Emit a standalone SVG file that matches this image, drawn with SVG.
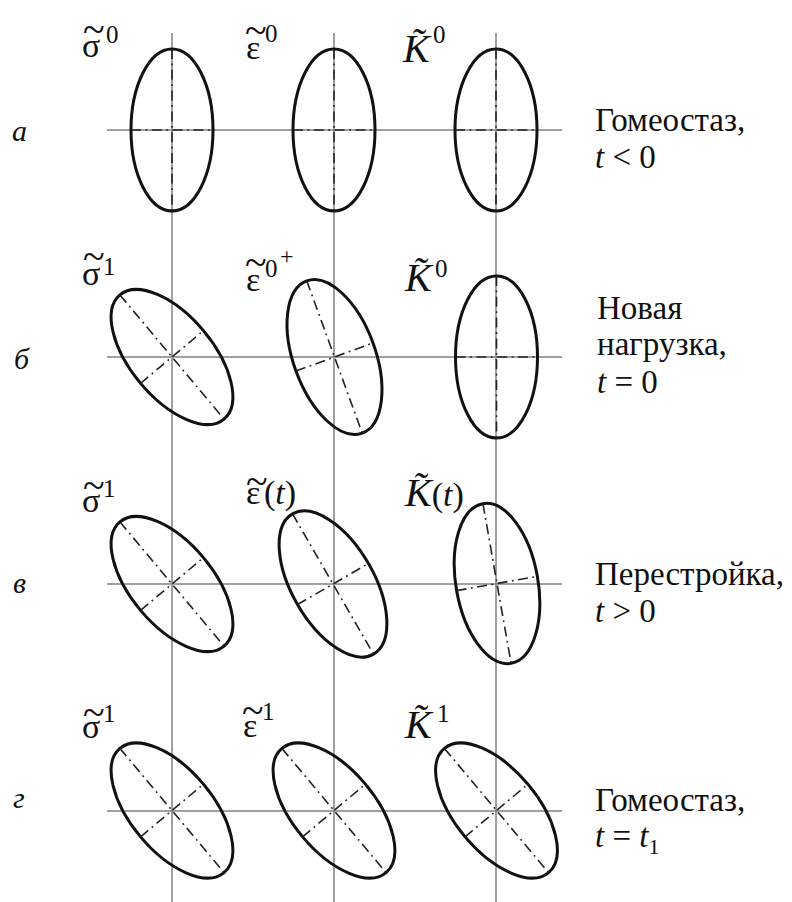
<svg xmlns="http://www.w3.org/2000/svg" width="792" height="902" viewBox="0 0 792 902" font-family="Liberation Serif, Times New Roman, serif">
<style>
.grid{stroke:#808080;stroke-width:1.5;fill:none}
.ell{fill:none;stroke:#111;stroke-width:3}
.ax{stroke:#222;stroke-width:1.6;stroke-dasharray:10 4.5 1.8 4.5;fill:none}
.lbl{font-size:34px;fill:#111}
.sup{font-size:25px}
.til{font-size:40px}
.it{font-style:italic}
.txt{font-size:33px;fill:#111}
.row{font-size:30px;font-style:italic;fill:#111}
</style>
<defs>
<g id="shape">
<ellipse class="ell" cx="0" cy="0" rx="41" ry="81"/>
<line class="ax" x1="0" y1="-81" x2="0" y2="81"/>
<line class="ax" x1="-41" y1="0" x2="41" y2="0"/>
</g>
</defs>
<rect width="792" height="902" fill="#fff"/>
<g id="connectors">
<line class="grid" x1="172" y1="33" x2="172" y2="902"/>
<line class="grid" x1="334" y1="33" x2="334" y2="902"/>
<line class="grid" x1="496" y1="33" x2="496" y2="902"/>
<line class="grid" x1="107" y1="130" x2="562" y2="130"/>
<line class="grid" x1="107" y1="357" x2="562" y2="357"/>
<line class="grid" x1="107" y1="584" x2="562" y2="584"/>
<line class="grid" x1="107" y1="811" x2="562" y2="811"/>
</g>

<g id="a-sigma">
<use href="#shape" transform="translate(172,130)"/>
<text class="lbl" x="82" y="57">σ<tspan class="til" x="83" y="43">~</tspan><tspan class="sup" x="106" y="43">0</tspan></text>
</g>
<g id="a-eps">
<use href="#shape" transform="translate(334,130)"/>
<text class="lbl" x="246" y="59">ε<tspan class="til" x="245" y="44">~</tspan><tspan class="sup" x="265" y="42">0</tspan></text>
</g>
<g id="a-K">
<use href="#shape" transform="translate(496,130)"/>
<text class="lbl" x="403" y="62"><tspan class="it" font-size="40">K̃</tspan><tspan class="sup" x="433" y="43">0</tspan></text>
</g>

<g id="b-sigma">
<use href="#shape" transform="translate(172,357) rotate(-40)"/>
<text class="lbl" x="82" y="285">σ<tspan class="til" x="83" y="270">~</tspan><tspan class="sup" x="103" y="275">1</tspan></text>
</g>
<g id="b-eps">
<use href="#shape" transform="translate(334.5,357) rotate(-20)"/>
<text class="lbl" x="246" y="291">ε<tspan class="til" x="245" y="276">~</tspan><tspan class="sup" x="265" y="277">0</tspan><tspan font-size="24" x="280" y="264">+</tspan></text>
</g>
<g id="b-K">
<use href="#shape" transform="translate(496.5,357)"/>
<text class="lbl" x="405" y="291"><tspan class="it" font-size="40">K̃</tspan><tspan class="sup" x="435" y="277">0</tspan></text>
</g>

<g id="v-sigma">
<use href="#shape" transform="translate(172,584) rotate(-40)"/>
<text class="lbl" x="82" y="512">σ<tspan class="til" x="83" y="499">~</tspan><tspan class="sup" x="103" y="497">1</tspan></text>
</g>
<g id="v-eps">
<use href="#shape" transform="translate(333,584) rotate(-30)"/>
<text class="lbl" x="246" y="504">ε<tspan class="til" x="246" y="495">~</tspan><tspan x="264" y="504">(<tspan class="it">t</tspan>)</tspan></text>
</g>
<g id="v-K">
<use href="#shape" transform="translate(497,583.5) rotate(-10)"/>
<text class="lbl" x="405" y="506"><tspan class="it" font-size="40">K̃</tspan>(<tspan class="it">t</tspan>)</text>
</g>

<g id="g-sigma">
<use href="#shape" transform="translate(172,810.5) rotate(-40)"/>
<text class="lbl" x="82" y="738">σ<tspan class="til" x="83" y="726">~</tspan><tspan class="sup" x="103" y="722">1</tspan></text>
</g>
<g id="g-eps">
<use href="#shape" transform="translate(334,810.5) rotate(-40)"/>
<text class="lbl" x="243" y="737">ε<tspan class="til" x="242" y="724">~</tspan><tspan class="sup" x="262" y="720">1</tspan></text>
</g>
<g id="g-K">
<use href="#shape" transform="translate(496.5,810.5) rotate(-40)"/>
<text class="lbl" x="405" y="738"><tspan class="it" font-size="40">K̃</tspan><tspan class="sup" x="437" y="722">1</tspan></text>
</g>

<g id="row-letters">
<text class="row" x="12" y="141">а</text>
<text class="row" x="14" y="369">б</text>
<text class="row" x="13" y="593">в</text>
<text class="row" x="13" y="808">г</text>
</g>

<g id="desc-a">
<text class="txt" x="595" y="131">Гомеостаз,</text>
<text class="txt" x="595" y="168"><tspan class="it">t</tspan> &lt; 0</text>
</g>
<g id="desc-b">
<text class="txt" x="597" y="319">Новая</text>
<text class="txt" x="597" y="355">нагрузка,</text>
<text class="txt" x="597" y="393"><tspan class="it">t</tspan> = 0</text>
</g>
<g id="desc-v">
<text class="txt" x="595" y="585">Перестройка,</text>
<text class="txt" x="595" y="622"><tspan class="it">t</tspan> &gt; 0</text>
</g>
<g id="desc-g">
<text class="txt" x="595" y="811">Гомеостаз,</text>
<text class="txt" x="595" y="847"><tspan class="it">t</tspan> = <tspan class="it">t</tspan><tspan font-size="22" dy="7">1</tspan></text>
</g>
</svg>
